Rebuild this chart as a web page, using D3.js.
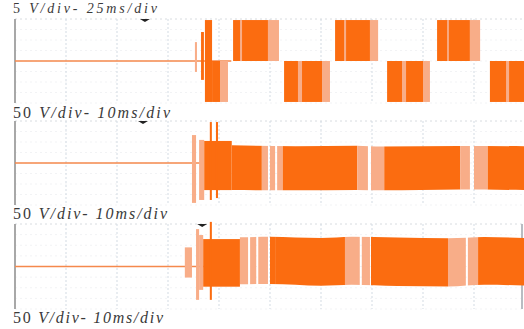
<!DOCTYPE html>
<html>
<head>
<meta charset="UTF-8">
<script src="https://d3js.org/d3.v7.min.js"></script>
<style>
  body { margin: 0; background: #fff; }
  svg { display: block; }
</style>
</head>
<body>
<script>
// channel labels (volts/div - time/div)
const labels = ["5 V/div- 25ms/div", "50 V/div- 10ms/div", "50 V/div- 10ms/div", "50 V/div- 10ms/div"];
const labelBase = [13, 118, 219, 323];
const labelWidth = [144, 157, 154, 150];

// panel 1: gate/switching signal, [t0 ms, t1 ms, vLow, vHigh, shade]
const p1Blocks = [
  [88.2, 89.2, -5.2, 9.0, "l"],
  [91.2, 92.6, -9, 13.8, "d"],
  [93.1, 96.6, -19.5, 19.5, "d"],
  [96.6, 100.5, -19.5, 0, "d"],
  [100.5, 104.4, -19.5, 0, "l"],
  [106.9, 124.0, 0, 19.5, "d"], [124.0, 129.4, 0, 19.5, "l"], [110.3, 111.3, 0, 19.5, "l"],
  [131.9, 150.5, -19.5, 0, "d"], [150.5, 154.4, -19.5, 0, "l"], [138.7, 140.7, -19.5, 0, "l"],
  [156.9, 174.0, 0, 19.5, "d"], [174.0, 178.0, 0, 19.5, "l"], [161.3, 162.3, 0, 19.5, "l"],
  [182.4, 200.0, -19.5, 0, "d"], [200.0, 203.4, -19.5, 0, "l"], [189.7, 191.7, -19.5, 0, "l"],
  [206.9, 223.0, 0, 19.5, "d"], [223.0, 228.0, 0, 19.5, "l"], [211.8, 212.7, 0, 19.5, "l"],
  [232.8, 250.0, -19.5, 0, "d"], [240.7, 242.2, -19.5, 0, "l"]
];

// panel 2: start-up burst [t0, t1, vLow, vHigh, shade]
const p2Burst = [
  [34.7, 35.5, -190, 133, "l"],
  [36.1, 37.1, -176, 110, "l"],
  [37.1, 42.5, -129, 105, "d"],
  [38.2, 38.6, -176, 195, "d"],
  [39.4, 39.8, -167, 195, "d"]
];
// panel 2: steady band segments [t0, t1, shade]
const p2Band = [
  [42.5, 48.4, "d"], [48.4, 49.6, "l"], [50.0, 51.0, "l"], [51.4, 52.5, "l"],
  [52.5, 67.1, "d"], [67.1, 69.2, "l"], [69.8, 72.4, "l"],
  [72.4, 87.3, "d"], [87.3, 89.2, "l"], [90.0, 92.7, "l"],
  [92.7, 100, "d"]
];
const p2EnvT = [42.5, 55, 67, 72, 87, 100];
const p2EnvHi = [84, 80, 82, 78, 81, 80];
const p2EnvLo = [-129, -130, -128, -130, -126, -129];

// panel 3: start-up burst
const p3Burst = [
  [33.3, 34.7, -52, 90, "l"],
  [35.5, 36.1, -157, 176, "l"],
  [36.1, 36.9, -110, 148, "l"],
  [36.9, 44.1, -95, 129, "d"],
  [38.2, 38.6, -157, 210, "d"]
];
const p3Band = [
  [44.1, 45.7, "l"], [46.1, 47.3, "l"], [47.7, 49.6, "l"], [50.0, 51.0, "d"],
  [51.0, 64.7, "d"], [64.7, 67.6, "l"], [68.0, 69.6, "l"],
  [69.8, 84.9, "d"], [84.9, 88.4, "l"], [88.8, 90.8, "l"],
  [90.8, 100, "d"]
];
const p3EnvT = [36.9, 44, 50, 60, 66, 75, 85, 92, 100];
const p3EnvHi = [136, 138, 140, 134, 140, 137, 133, 139, 134];
const p3EnvLo = [-86, -84, -82, -90, -86, -92, -94, -86, -90];

const panels = [
  { top: 19, bottom: 103, span: 250, vdiv: 5, traceEnd: 106, trig: 63.7, blocks: p1Blocks, right: false },
  { top: 121, bottom: 205, span: 100, vdiv: 50, traceEnd: 37, trig: 25.1, blocks: p2Burst,
    band: p2Band, envT: p2EnvT, envHi: p2EnvHi, envLo: p2EnvLo, right: false },
  { top: 224, bottom: 309, span: 100, vdiv: 50, traceEnd: 37, trig: 36.7, blocks: p3Burst,
    band: p3Band, envT: p3EnvT, envHi: p3EnvHi, envLo: p3EnvLo, right: true }
];

const W = 524, H = 329;
const dark = "#fb6c10", light = "#f8ad88";
const shade = s => s === "d" ? dark : light;

const svg = d3.select("body").append("svg").attr("width", W).attr("height", H);

panels.forEach((p, pi) => {
  const x = d3.scaleLinear().domain([0, p.span]).range([15, 525]);
  const y = d3.scaleLinear().domain([-4 * p.vdiv, 4 * p.vdiv]).range([p.bottom, p.top]);
  const g = svg.append("g");

  // grid
  g.selectAll("line.hg").data(d3.range(-4, 5)).join("line")
    .attr("x1", 15).attr("x2", W)
    .attr("y1", d => y(d * p.vdiv)).attr("y2", d => y(d * p.vdiv))
    .attr("stroke", d => d === 4 ? "#d8dce0" : "#f2f3f5")
    .attr("stroke-dasharray", "2,3");
  g.selectAll("line.vg").data(d3.range(1, 10)).join("line")
    .attr("x1", d => x(d * p.span / 10)).attr("x2", d => x(d * p.span / 10))
    .attr("y1", p.top).attr("y2", p.bottom)
    .attr("stroke", "#d3dbe3").attr("stroke-dasharray", "2,2");

  // borders
  g.append("line").attr("x1", 15).attr("x2", 15).attr("y1", p.top).attr("y2", p.bottom)
    .attr("stroke", "#a8a8a8").attr("stroke-width", 2);
  if (p.right) {
    g.append("line").attr("x1", 522).attr("x2", 522).attr("y1", p.top).attr("y2", p.bottom)
      .attr("stroke", "#b8bcc2").attr("stroke-width", 2);
  }

  // idle trace
  g.append("line").attr("x1", x(0)).attr("x2", x(p.traceEnd))
    .attr("y1", y(0)).attr("y2", y(0))
    .attr("stroke", "#f5894c").attr("stroke-width", 1.6);

  // steady band clipped to envelope
  if (p.band) {
    const env = p.envT.map((t, i) => ({ t, hi: p.envHi[i], lo: p.envLo[i] }));
    const area = d3.area().x(d => x(d.t)).y0(d => y(d.lo)).y1(d => y(d.hi))
      .curve(d3.curveMonotoneX);
    const cid = "clip" + pi;
    svg.append("clipPath").attr("id", cid).append("path").attr("d", area(env));
    g.append("g").attr("clip-path", `url(#${cid})`)
      .selectAll("rect").data(p.band).join("rect")
      .attr("x", d => x(d[0])).attr("width", d => x(d[1]) - x(d[0]))
      .attr("y", p.top).attr("height", p.bottom - p.top)
      .attr("fill", d => shade(d[2]));
  }

  // bursts / switching blocks
  g.selectAll("rect.b").data(p.blocks).join("rect")
    .attr("x", d => x(d[0])).attr("width", d => Math.max(1, x(d[1]) - x(d[0])))
    .attr("y", d => y(d[3])).attr("height", d => y(d[2]) - y(d[3]))
    .attr("fill", d => shade(d[4]));

  // trigger marker
  const tx = x(p.trig);
  g.append("path")
    .attr("d", `M${tx - 5},${p.top} L${tx + 5},${p.top} L${tx},${p.top + 3} Z`)
    .attr("fill", "#222");
});

// labels
labels.forEach((s, i) => {
  const k = s.indexOf(" ");
  const t = svg.append("text")
    .attr("font-family", "'Liberation Serif', 'Times New Roman', serif")
    .attr("font-size", i === 0 ? 14 : 16)
    .attr("fill", "#3a3a3a")
    .attr("x", 13).attr("y", labelBase[i])
    .attr("textLength", labelWidth[i]).attr("lengthAdjust", "spacing");
  t.append("tspan").text(s.slice(0, k + 1));
  t.append("tspan").attr("font-style", "italic").text(s.slice(k + 1));
});
</script>
</body>
</html>
